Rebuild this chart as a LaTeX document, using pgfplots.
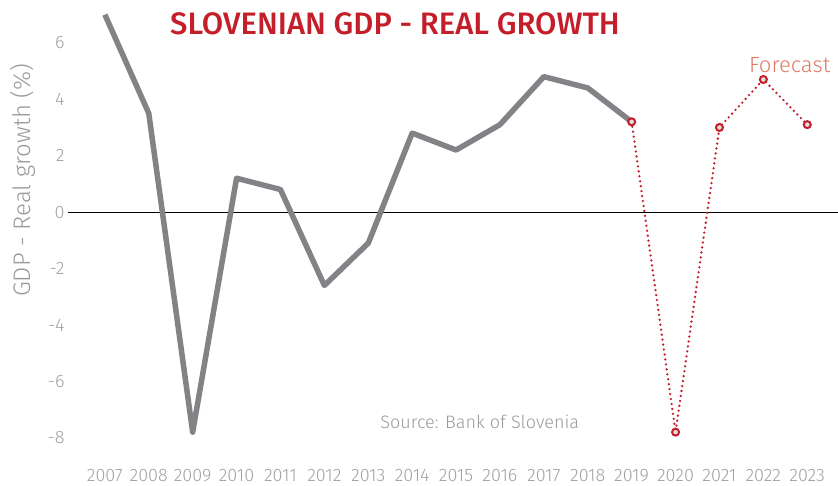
\documentclass[border=0pt]{standalone}
\usepackage{fontspec}
\setmainfont{Fira Sans}[UprightFont={* Light}, BoldFont={* Medium}]
\usepackage{pgfplots}
\pgfplotsset{compat=1.18}

\definecolor{gdpgray}{HTML}{838387}
\definecolor{gdpred}{HTML}{C41E2A}
\definecolor{ticktext}{HTML}{A0A0A0}
\definecolor{labeltext}{HTML}{9A9A9A}
\definecolor{fcast}{HTML}{E07A66}

\begin{document}
\begin{tikzpicture}
\useasboundingbox (0,0) rectangle (838pt,-486pt);
\begin{axis}[
    at={(68pt,-466pt)}, anchor=south west,
    scale only axis,
    width=770pt, height=465.5pt,
    xmin=2006.16, xmax=2023.7,
    ymin=-9, ymax=7.5,
    xtick={2007,...,2023},
    ytick={-8,-6,...,6},
    axis line style={draw=none},
    tick style={draw=none},
    /pgf/number format/assume math mode=true,
    xticklabel={\pgfmathprintnumber[1000 sep={},fixed]{\tick}},
    ticklabel style={font=\fontsize{18}{20}\selectfont, text=ticktext},
    extra y ticks={0},
    extra y tick labels={},
    extra y tick style={grid=major, major grid style={black, line width=0.8pt}},
    ylabel={GDP - Real growth (\%)},
    ylabel style={at={(axis description cs:-0.058,0.614)}, anchor=center,
        font=\fontsize{24}{28}\selectfont, text=labeltext},
    title={SLOVENIAN GDP - REAL GROWTH},
    title style={at={(axis description cs:0.4247,0.936)}, anchor=center,
        font=\bfseries\fontsize{31}{36}\selectfont, text=gdpred},
    clip=false,
]
% realised growth
\addplot[gdpgray, line width=5.5pt, line join=round] coordinates {
    (2007, 7.0) (2008, 3.5) (2009, -7.8) (2010, 1.2) (2011, 0.8)
    (2012, -2.6) (2013, -1.1) (2014, 2.8) (2015, 2.2) (2016, 3.1)
    (2017, 4.8) (2018, 4.4) (2019, 3.2)
};
% forecast
\addplot[gdpred, line width=2.6pt, line cap=round, dash pattern=on 0pt off 5pt,
    mark=*, mark size=3.5pt,
    mark options={solid, draw=gdpred, fill=black!12, line width=2pt}]
    coordinates {
    (2019, 3.2) (2020, -7.8) (2021, 3.0) (2022, 4.7) (2023, 3.1)
};
\node[text=fcast, font=\fontsize{22}{26}\selectfont] at (axis cs:2022.6,5.2) {Forecast};
\node[text=labeltext, font=\fontsize{18}{22}\selectfont] at (axis cs:2015.54,-7.44) {Source: Bank of Slovenia};
\end{axis}
\end{tikzpicture}
\end{document}
